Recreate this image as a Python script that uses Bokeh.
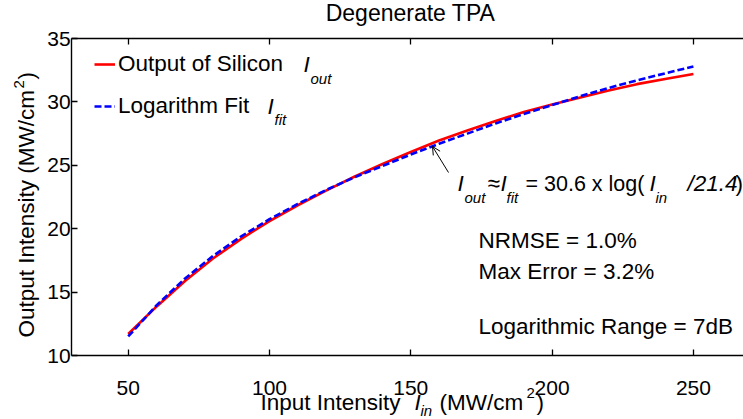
from bokeh.plotting import figure
from bokeh.models import (Label, LinearAxis, Range1d, Legend, LegendItem, Arrow,
                          OpenHead, FixedTicker)
from bokeh.embed import file_html
from bokeh.resources import INLINE
import math

# ---- data ----
x_in = [50, 60, 70, 80, 90, 100, 110, 120, 130, 140, 150,
        160, 170, 180, 190, 200, 210, 220, 230, 240, 250]
out_si = [11.7, 13.85, 15.85, 17.65, 19.2, 20.6, 21.85, 23.0, 24.1, 25.1, 26.05,
          26.95, 27.75, 28.5, 29.2, 29.8, 30.35, 30.9, 31.4, 31.8, 32.2]
fit_log = [11.5, 13.95, 16.05, 17.85, 19.4, 20.75, 21.95, 23.05, 24.05, 24.95, 25.85,
           26.7, 27.5, 28.3, 29.05, 29.75, 30.45, 31.1, 31.7, 32.25, 32.8]
x_ticks = [50, 100, 150, 200, 250]
y_ticks = [10, 15, 20, 25, 30, 35]
x_lim = (30, 270)
y_lim = (10, 35)

FONT = "Liberation Sans"
W, H = 743, 419
# where the axes box sits on the canvas (pixels)
PX50, PX250 = 127.7, 692.9
PY10, PY35 = 355.0, 38.0
KX = (PX250 - PX50) / 200.0
KY = (PY10 - PY35) / 25.0
X0 = 50 - PX50 / KX
X1 = X0 + W / KX
Y1 = 35 + PY35 / KY
Y0 = Y1 - H / KY


def dx(px):
    return X0 + px / KX


def dy(py):
    return Y1 - py / KY


p = figure(width=W, height=H, x_range=Range1d(X0, X1), y_range=Range1d(Y0, Y1),
           output_backend="svg", toolbar_location=None,
           min_border=0, min_border_left=0, min_border_right=0,
           min_border_top=0, min_border_bottom=0)
p.title.visible = False
p.grid.visible = False
p.outline_line_color = None
p.background_fill_color = "white"
p.border_fill_color = "white"


def style_axis(ax, ticks, loc, bounds):
    ax.fixed_location = loc
    ax.bounds = bounds
    ax.ticker = FixedTicker(ticks=ticks)
    ax.major_tick_in = 6
    ax.major_tick_out = 0
    ax.minor_tick_line_color = None
    ax.axis_line_width = 1.4
    ax.major_tick_line_width = 1.3
    ax.axis_line_color = "black"
    ax.major_tick_line_color = "black"
    ax.major_label_text_font = FONT
    ax.major_label_text_font_size = "21px"
    ax.major_label_text_color = "black"


style_axis(p.xaxis[0], x_ticks, y_lim[0], x_lim)
style_axis(p.yaxis[0], y_ticks, x_lim[0], y_lim)
p.xaxis[0].major_label_standoff = 25
p.yaxis[0].major_label_standoff = 1

top = LinearAxis()
style_axis(top, x_ticks, y_lim[1], x_lim)
top.major_label_overrides = {t: "" for t in x_ticks}
p.add_layout(top, "above")

r1 = p.line(x_in, out_si, line_color="red", line_width=2.6)
r2 = p.line(x_in, fit_log, line_color="blue", line_width=2.6, line_dash="7 3")

legend = Legend(items=[LegendItem(label="Output of Silicon", renderers=[r1]),
                       LegendItem(label="Logarithm Fit", renderers=[r2])],
                location=(94, 300), padding=0, spacing=16, glyph_width=21,
                glyph_height=26, label_height=26, label_standoff=3,
                background_fill_alpha=0, border_line_color=None,
                label_text_font=FONT, label_text_font_size="22.5px",
                label_text_color="black")
p.add_layout(legend)


def lab(px, py, text, size="22.5px", style="normal", align="left", angle=0.0):
    p.add_layout(Label(x=dx(px), y=dy(py), text=text, text_font=FONT,
                       text_font_size=size, text_font_style=style,
                       text_align=align, text_baseline="middle",
                       text_color="black", angle=angle))


# title
lab(410, 12, "Degenerate TPA", size="23px", align="center")

# legend math parts
lab(303, 63.5, "I", style="italic")
lab(310, 78, "out", size="15px", style="italic")
lab(267, 105.5, "I", style="italic")
lab(274, 119, "fit", size="15px", style="italic")

# formula
lab(457, 183, "I", style="italic")
lab(464, 197, "out", size="15px", style="italic")
lab(487, 183, "\u2248")
lab(500, 183, "I", style="italic")
lab(506, 197, "fit", size="15px", style="italic")
lab(525, 183, "= 30.6 x log(", size="21.5px")
lab(649, 183, "I", style="italic")
lab(655, 197, "in", size="15px", style="italic")
lab(687, 183, "/21.4", style="italic")
lab(735, 183, ")")

lab(478, 240, "NRMSE = 1.0%")
lab(478, 271, "Max Error = 3.2%")
lab(478, 326, "Logarithmic Range = 7dB")

# x axis label
lab(260, 402, "Input Intensity")
lab(414, 402, "I", style="italic")
lab(420, 410, "in", size="15px", style="italic")
lab(439, 402, "(MW/cm")
lab(526, 392, "2", size="15px")
lab(536, 402, ")")

# y axis label (rotated)
rot = math.pi / 2
lab(26, 337, "Output Intensity  (MW/cm", angle=rot)
lab(18, 88, "2", size="15px", angle=rot)
lab(26, 79, ")", angle=rot)

p.add_layout(Arrow(end=OpenHead(size=8, line_width=1, line_color="black"),
                   x_start=dx(448), y_start=dy(172), x_end=dx(432), y_end=dy(146),
                   line_width=1, line_color="black"))

open("out.html", "w").write(file_html(p, INLINE))
